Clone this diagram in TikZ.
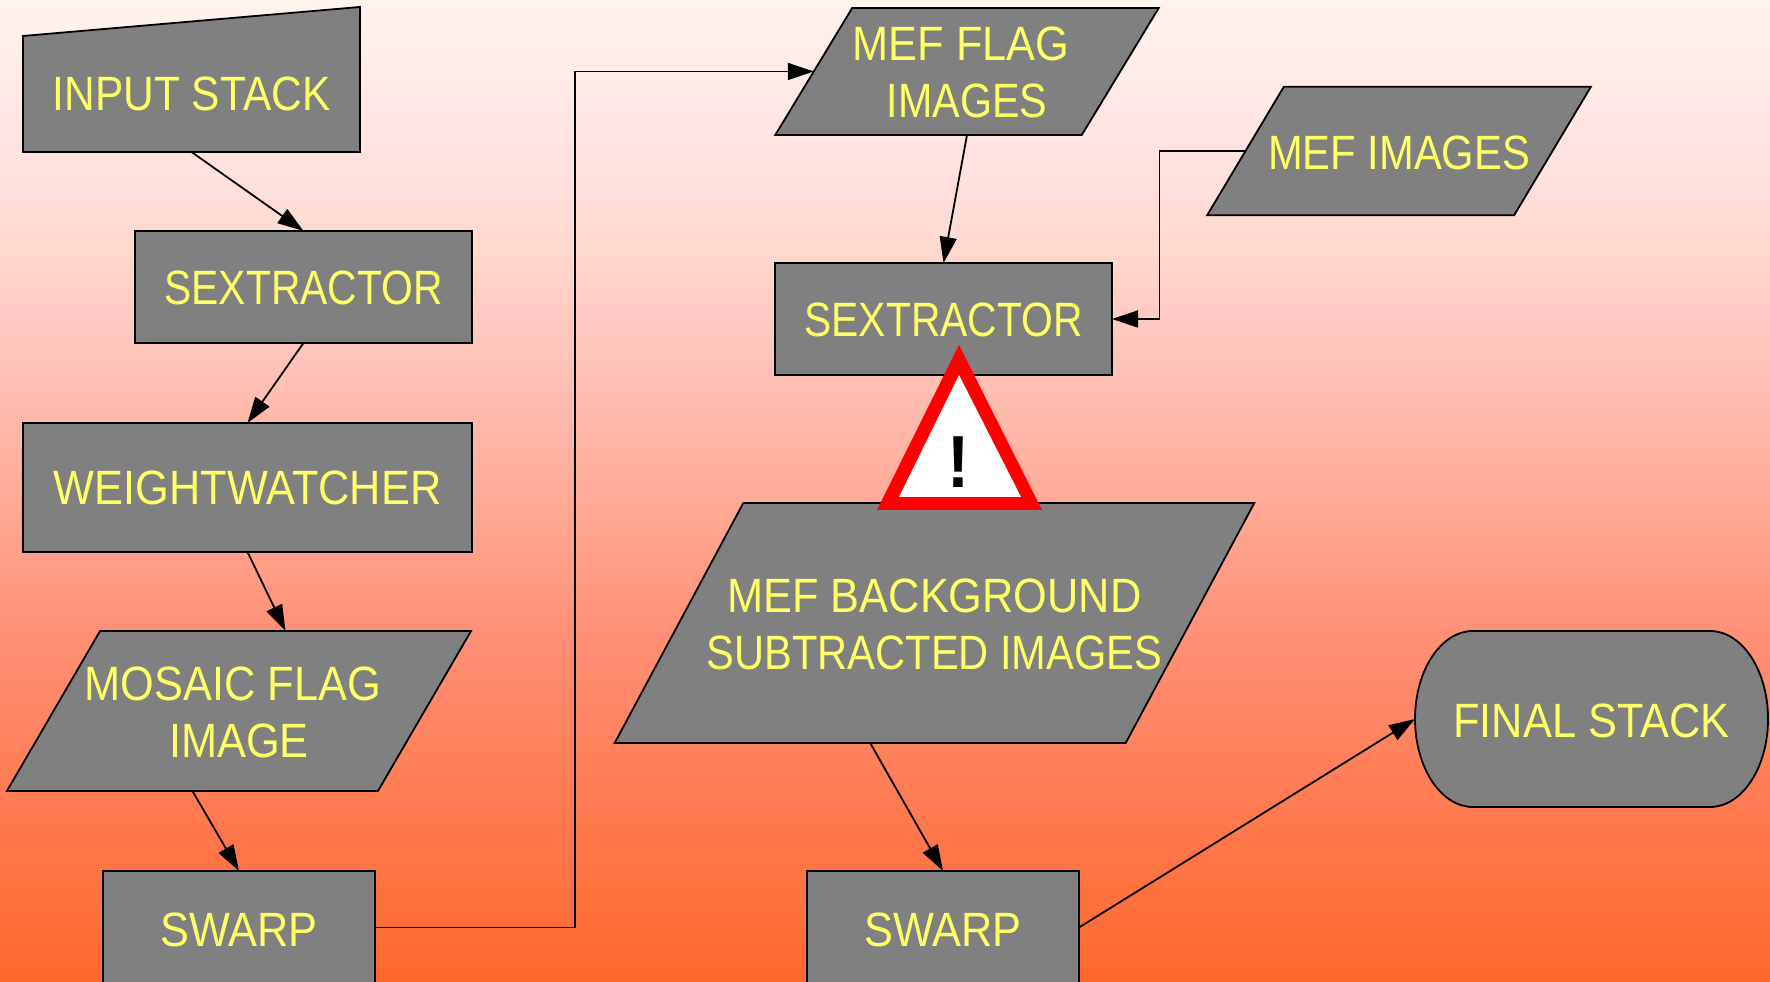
\documentclass[tikz,border=0pt]{standalone}
\usepackage{graphicx}
\usepackage{fontspec}
\setmainfont[FakeStretch=0.9]{Liberation Sans}
\usetikzlibrary{arrows.meta,positioning}
\definecolor{boxgray}{RGB}{128,128,128}
\definecolor{labelyellow}{RGB}{255,255,102}
\definecolor{fadea}{RGB}{255,104,44}
\definecolor{fadeb}{RGB}{255,122,80}
\definecolor{fadec}{RGB}{255,145,120}
\definecolor{faded}{RGB}{255,170,150}
\definecolor{fadee}{RGB}{255,200,192}
\definecolor{fadef}{RGB}{255,218,208}
\definecolor{fadeg}{RGB}{255,226,224}
\definecolor{fadeh}{RGB}{255,243,238}
\pgfdeclareverticalshading{skyfade}{100bp}{
  color(0bp)=(fadea); color(25bp)=(fadea); color(33.7bp)=(fadeb); color(43.2bp)=(fadec);
  color(49.5bp)=(faded); color(58.2bp)=(fadee); color(62.8bp)=(fadef);
  color(66.9bp)=(fadeg); color(75bp)=(fadeh); color(100bp)=(fadeh)}
\tikzset{
  stepbox/.style={draw=black, line width=.018cm, fill=boxgray, inner sep=0pt, outer sep=0pt},
  slantbox/.style={stepbox, transform shape},
  lbl/.style={text=labelyellow, align=center, inner sep=0pt, outer sep=0pt, font=\fontsize{13.7}{16.1}\selectfont},
  onelbl/.style={lbl, text height=.375cm, text depth=0pt}
}
\tikzset{conn/.style={-{Triangle[length=.26cm,width=.17cm]}, line width=.018cm, black}}
\begin{document}
\begin{tikzpicture}
            % Background
            \useasboundingbox (0,0) rectangle (17.7,9.82);
            \path[shading=skyfade] (0,0) rectangle (17.7,9.82);

            % Left column
            \draw[stepbox] (.23,8.30) -- (.23,9.46) -- (3.60,9.75) -- (3.60,8.30) -- cycle;
            \node[lbl, minimum width=3.37cm, minimum height=1.17cm] (input) at (1.915,8.885) {\scalebox{.98}[1]{INPUT STACK}};
            \node[stepbox, onelbl, text height=.36cm, minimum width=3.37cm, minimum height=1.12cm] (sexleft) at (3.035,6.95) {\scalebox{.942}[1]{SEXTRACTOR}};
            \node[stepbox, lbl, minimum width=4.49cm, minimum height=1.29cm] (weight) at (2.475,4.945) {WEIGHTWATCHER};
            \node[slantbox, xslant=.582, minimum width=3.71cm, minimum height=1.6cm] (mosaic) at (2.39,2.71) {};
            \node[lbl, yshift=-.012cm] (mosaiclabel) at (mosaic.center) {MOSAIC FLAG\phantom{.}\\IMAGE};
            \node[stepbox, onelbl, minimum width=2.72cm, minimum height=1.13cm] (swarpleft) at (2.39,.545) {SWARP};

            % Middle column
            \node[slantbox, xslant=.606, minimum width=3.065cm, minimum height=1.27cm] (mefflag) at (9.67,9.105) {};
            \node[lbl, yshift=-.012cm] (mefflaglabel) at (mefflag.center) {MEF FLAG\phantom{.}\\\scalebox{.953}[1]{IMAGES}};
            \node[stepbox, onelbl, text height=.36cm, minimum width=3.37cm, minimum height=1.12cm] (sexmid) at (9.435,6.63) {\scalebox{.942}[1]{SEXTRACTOR}};
            \node[slantbox, xslant=.536, minimum width=5.11cm, minimum height=2.4cm] (mefback) at (9.345,3.59) {};
            \node[lbl, yshift=-.012cm] (mefbacklabel) at (mefback.center) {MEF BACKGROUND\\\scalebox{.96}[1]{SUBTRACTED IMAGES}};
            \node[stepbox, onelbl, minimum width=2.72cm, minimum height=1.13cm] (swarpmid) at (9.43,.545) {SWARP};

            % Right side
            \node[slantbox, xslant=.597, minimum width=3.07cm, minimum height=1.286cm] (mefimages) at (13.99,8.31) {};
            \node[onelbl] (mefimageslabel) at (mefimages.center) {\scalebox{.963}[1]{MEF IMAGES}};
            \draw[stepbox] (14.73,3.51) arc[start angle=90, end angle=270, x radius=.58, y radius=.88]
                -- (17.10,1.75) arc[start angle=-90, end angle=90, x radius=.58, y radius=.88] -- cycle;
            \node[onelbl, minimum width=3.53cm, minimum height=1.76cm] (final) at (15.915,2.63) {FINAL STACK};

            % Connectors
            \draw[conn] (input.south) -- (sexleft.north);
            \draw[conn] (sexleft.south) -- (weight.north);
            \draw[conn] (weight.south) -- (mosaic.north);
            \draw[conn] (mosaic.south) -- (swarpleft.north);
            \draw[conn] (swarpleft.east) -- ++(2,0) |- (mefflag.west);
            \draw[conn] (mefflag.center |- mefflag.south) -- (sexmid.north);
            \draw[conn] (mefimages.west) -- ++(-.86,0) |- (sexmid.east);
            \draw[conn] (mefback.south) -- (swarpmid.north);
            \draw[conn] (swarpmid.east) -- (final.west);

            % Warning sign
            \fill[red] (9.59,6.37) -- (8.77,4.72) -- (10.42,4.72) -- cycle;
            \fill[white] (9.59,6.07) -- (8.99,4.85) -- (10.21,4.85) -- cycle;
            \node[inner sep=0pt, font=\fontsize{21}{21}\selectfont\bfseries] (warning) at (9.59,5.20) {!};
        \end{tikzpicture}
\end{document}
